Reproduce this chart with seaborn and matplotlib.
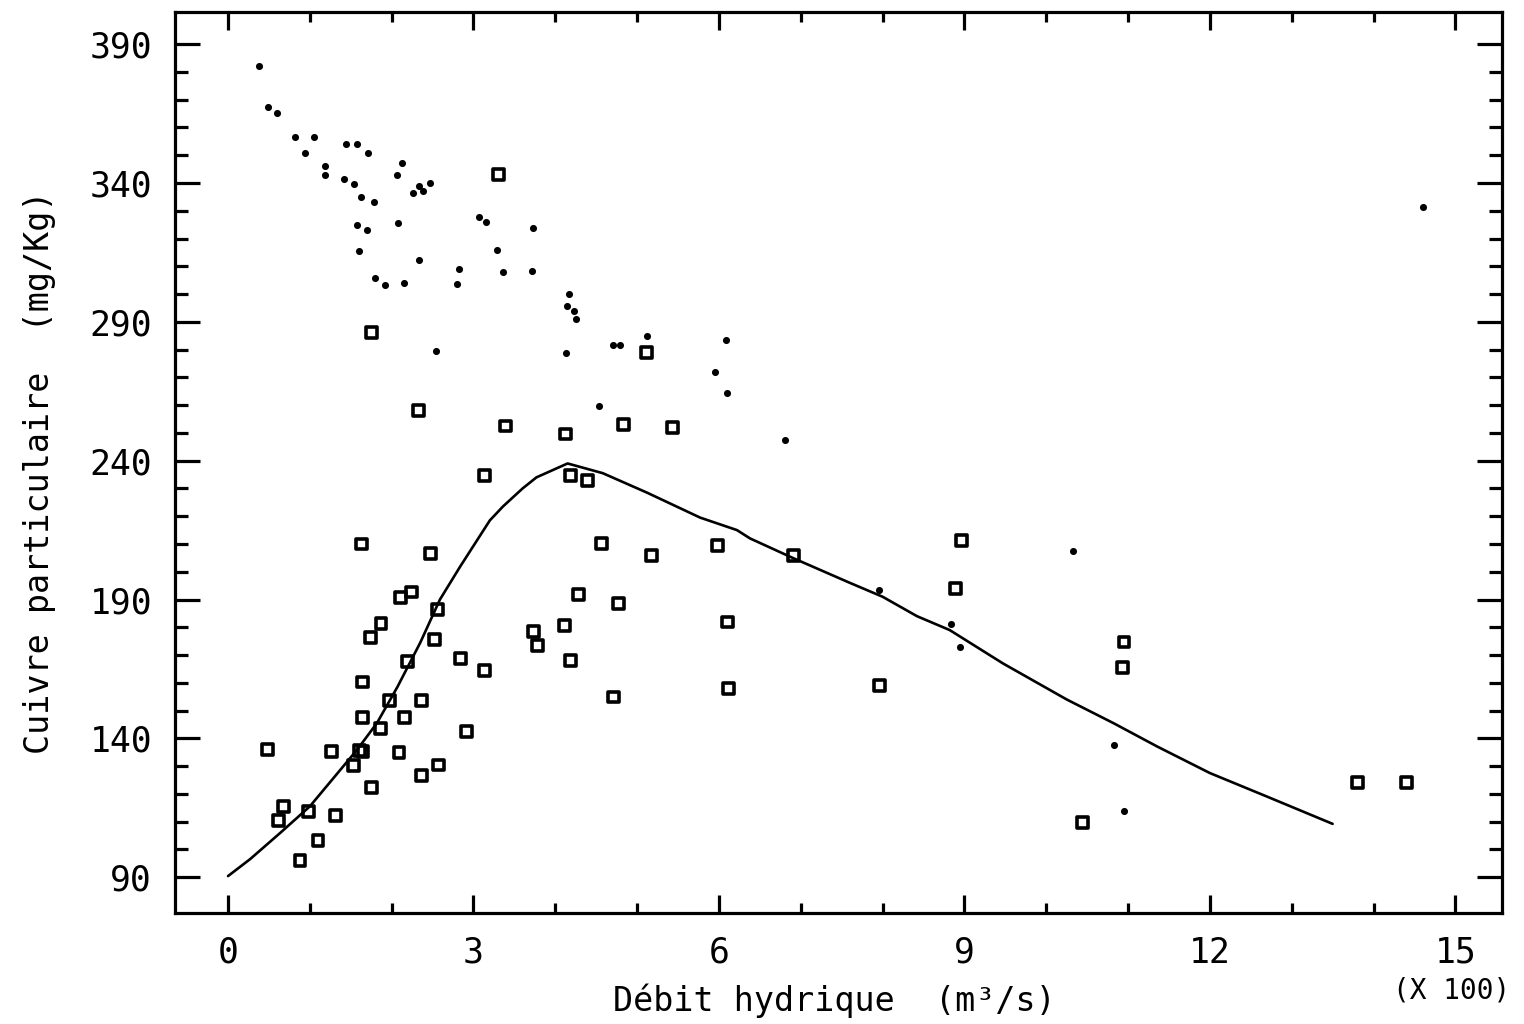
import matplotlib
matplotlib.use("Agg")
import matplotlib.pyplot as plt
import seaborn as sns
from matplotlib.ticker import FixedLocator

# ---- data ----
# open squares
sq_x = [1.75, 3.31, 2.33, 3.39, 4.12, 4.83, 5.43, 3.13, 4.18, 4.39, 5.11, 1.63, 2.48,
        4.56, 5.18, 5.98, 6.91, 8.96, 8.89, 2.24, 2.11, 2.56, 1.87, 1.74, 4.28, 4.77,
        3.73, 3.78, 4.11, 4.19, 2.52, 2.19, 2.84, 3.14, 6.10, 6.12, 4.71, 7.96, 10.95,
        10.93, 1.64, 1.64, 1.97, 2.36, 2.16, 1.86, 2.92, 0.48, 1.27, 1.61, 1.65, 1.53,
        2.09, 2.57, 2.37, 1.75, 0.68, 0.62, 0.98, 1.31, 1.10, 0.88, 10.44, 13.80, 14.40]
sq_y = [286.0, 343.0, 258.0, 252.5, 249.6, 253.0, 252.0, 234.5, 234.5, 233.0, 279.0, 210.0,
        206.5, 210.3, 205.8, 209.4, 205.8, 211.1, 193.8, 192.7, 190.6, 186.3, 181.2, 176.2,
        191.7, 188.4, 178.4, 173.3, 180.5, 167.9, 175.5, 167.6, 168.6, 164.3, 181.9, 157.8,
        154.9, 158.9, 174.7, 165.4, 160.3, 147.4, 153.5, 153.5, 147.4, 143.4, 142.3, 135.9,
        135.1, 135.5, 135.1, 130.1, 134.8, 130.4, 126.5, 122.2, 115.4, 110.3, 113.5, 112.1,
        103.1, 95.9, 109.6, 124.0, 124.0]

# small filled dots
dot_x = [0.38, 0.49, 0.60, 0.82, 1.05, 0.94, 1.19, 1.19, 1.44, 1.58, 1.71, 1.42, 1.54,
         1.63, 1.78, 2.13, 2.07, 2.33, 2.38, 2.47, 2.26, 2.08, 1.58, 1.70, 1.60, 2.33,
         3.07, 3.15, 3.73, 3.29, 2.82, 2.80, 3.36, 3.72, 1.80, 1.92, 2.15, 4.17, 4.14,
         4.23, 4.25, 5.12, 4.71, 4.79, 2.54, 4.13, 4.54, 6.09, 5.95, 6.10, 6.81, 10.33,
         7.95, 8.84, 8.95, 10.83, 10.95, 14.60]
dot_y = [382.2, 367.5, 365.3, 356.7, 356.7, 350.9, 346.2, 343.0, 354.1, 354.1, 350.9,
         341.5, 339.7, 335.0, 333.2, 347.2, 343.0, 339.0, 337.2, 340.1, 336.5, 325.7,
         324.9, 323.1, 315.5, 312.3, 327.8, 326.0, 323.8, 315.9, 309.1, 303.7, 308.0,
         308.3, 305.8, 303.3, 304.0, 300.0, 295.7, 293.9, 291.0, 285.0, 281.7, 281.7,
         279.6, 278.9, 259.8, 283.5, 272.0, 264.4, 247.5, 207.5, 193.5, 181.2, 173.0,
         137.7, 113.9, 331.4]

# fitted curve
curve_x = [0.0, 0.27, 0.64, 1.00, 1.34, 1.58, 1.82, 2.07, 2.35, 2.59, 2.84, 3.20, 3.36,
           3.60, 3.77, 4.15, 4.58, 5.12, 5.77, 6.22, 6.38, 6.90, 7.60, 8.00, 8.42, 8.82,
           9.47, 10.25, 10.82, 11.36, 12.00, 12.70, 13.50]
curve_y = [90.4, 96.5, 106.0, 115.5, 127.5, 136.0, 145.5, 158.5, 174.5, 190.0, 202.0,
           218.5, 223.5, 230.0, 234.0, 239.0, 235.5, 228.5, 219.5, 215.0, 212.0, 205.0,
           196.0, 191.0, 184.0, 179.0, 167.0, 154.0, 145.5, 137.0, 127.5, 119.0, 109.2]

x_ticks = [0, 3, 6, 9, 12, 15]
x_minor = [1, 2, 4, 5, 7, 8, 10, 11, 13, 14]
y_ticks = [90, 140, 190, 240, 290, 340, 390]
y_minor = [v for v in range(90, 391, 10) if v not in y_ticks]

x_label = "Débit hydrique  (m³/s)"
y_label = "Cuivre particulaire  (mg/Kg)"
x_mult = "(X 100)"

# ---- style ----
sns.set_theme(style="white")
plt.rcParams['font.family'] = ['DejaVu Sans Mono', 'DejaVu Sans']

fig = plt.figure(figsize=(15.24, 10.24), dpi=100)
fig.patch.set_facecolor("white")
ax = fig.add_axes([175 / 1524, 1 - 913 / 1024, 1327 / 1524, 901.3 / 1024])
ax.set_facecolor("white")

sns.lineplot(x=curve_x, y=curve_y, ax=ax, color="black", linewidth=1.9,
             sort=False, estimator=None)
sns.scatterplot(x=dot_x, y=dot_y, ax=ax, color="black", s=26, marker="o",
                linewidth=0, zorder=3)
sns.scatterplot(x=sq_x, y=sq_y, ax=ax, marker="s", s=62, facecolor="none",
                edgecolor="black", linewidth=2.6, zorder=4)

ax.set_xlim(-0.648, 15.57)
ax.set_ylim(77.1, 401.7)

ax.xaxis.set_major_locator(FixedLocator(x_ticks))
ax.xaxis.set_minor_locator(FixedLocator(x_minor))
ax.yaxis.set_major_locator(FixedLocator(y_ticks))
ax.yaxis.set_minor_locator(FixedLocator(y_minor))
ax.set_xticklabels([str(v) for v in x_ticks])
ax.set_yticklabels([str(v) for v in y_ticks])

ax.tick_params(axis="both", which="both", direction="in", top=True, right=True,
               bottom=True, left=True, width=2.3, color="black",
               labelsize=25, labelcolor="black")
ax.tick_params(axis="y", which="major", length=18, pad=16.5)
ax.tick_params(axis="y", which="minor", length=9.5)
ax.tick_params(axis="x", which="major", length=13, pad=16.5)
ax.tick_params(axis="x", which="minor", length=7)

for sp in ax.spines.values():
    sp.set_visible(True)
    sp.set_linewidth(2.3)
    sp.set_color("black")

ax.set_xlabel("")
ax.set_ylabel("")
fig.text(834 / 1524, 1 - 1001 / 1024, x_label, ha="center", va="center",
         fontsize=24, color="black")
fig.text(40 / 1524, 1 - 472 / 1024, y_label, ha="center", va="center",
         rotation=90, fontsize=24, color="black")
fig.text(1452 / 1524, 1 - 991 / 1024, x_mult, ha="center", va="center",
         fontsize=20, color="black")

fig.savefig("out.png", dpi=100, facecolor="white")
